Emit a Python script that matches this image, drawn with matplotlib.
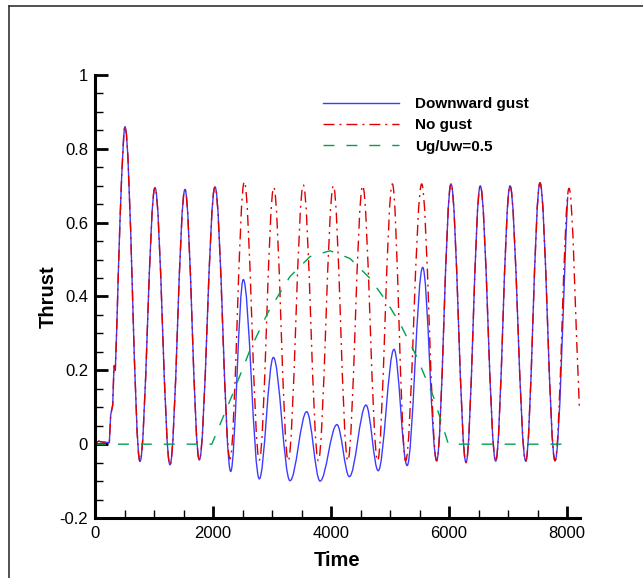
import matplotlib
matplotlib.use('Agg')
import matplotlib.pyplot as plt
from matplotlib.path import Path
from matplotlib.patches import PathPatch
from matplotlib.lines import Line2D
from matplotlib.ticker import MultipleLocator
import numpy as np

plt.rcParams['font.family'] = ['Liberation Sans', 'DejaVu Sans']

# start-up transient (same for both runs), drawn as straight pieces
start_t = [0, 60, 120, 243, 266, 300, 322, 344]
start_v = [0.003, 0.008, 0.006, 0.004, 0.079, 0.106, 0.212, 0.200]

# turning points, common part up to t~2030
common_t = [368, 424, 480, 508, 763, 1017, 1271, 1525, 1768, 2034]
common_v = [0.31, 0.607, 0.814, 0.86, -0.047, 0.695, -0.056, 0.69, -0.043, 0.697]

# downward gust
gust_t = [2300, 2514, 2785, 3023, 3305, 3588, 3814, 4100, 4311, 4593, 4800,
          5068, 5290, 5554, 5791, 6034, 6288, 6530, 6791, 7034, 7300, 7542,
          7797, 8011]
gust_v = [-0.074, 0.446, -0.094, 0.235, -0.099, 0.088, -0.100, 0.053, -0.088,
          0.106, -0.072, 0.257, -0.058, 0.479, -0.045, 0.705, -0.050, 0.700,
          -0.046, 0.700, -0.046, 0.708, -0.045, 0.670]

# no gust
nogust_t = [2288, 2531, 2785, 3030, 3275, 3531, 3785, 4040, 4285, 4537, 4790,
            5040, 5265, 5537, 5791, 6034, 6288, 6530, 6791, 7034, 7300, 7542,
            7797, 8034, 8209]
nogust_v = [-0.040, 0.711, -0.043, 0.696, -0.045, 0.702, -0.045, 0.700,
            -0.045, 0.700, -0.045, 0.705, -0.045, 0.705, -0.045, 0.705,
            -0.050, 0.700, -0.046, 0.700, -0.046, 0.708, -0.045, 0.693, 0.102]

# gust velocity ratio profile
ug_t = [0, 1980, 2316, 2627, 2938, 3305, 3644, 3983, 4322, 4661, 4943, 5169,
        5452, 5734, 5990, 7930]
ug_v = [0, 0, 0.129, 0.255, 0.359, 0.454, 0.508, 0.524, 0.503, 0.449, 0.386,
        0.327, 0.237, 0.129, 0.0, 0.0]

x_ticks = [0, 2000, 4000, 6000, 8000]
x_labels = ['0', '2000', '4000', '6000', '8000']
y_ticks = [-0.2, 0, 0.2, 0.4, 0.6, 0.8, 1.0]
y_labels = ['-0.2', '0', '0.2', '0.4', '0.6', '0.8', '1']


def curve_path(lt, lv, t, v):
    # straight pieces for the start, then smooth cubic pieces through the
    # turning points (flat tangent at each max/min)
    t = np.asarray(t, float)
    v = np.asarray(v, float)
    n = len(t)
    m = np.zeros(n)
    for i in range(n):
        lo, hi = max(i - 1, 0), min(i + 1, n - 1)
        if 0 < i < n - 1 and (v[i] - v[i - 1]) * (v[i + 1] - v[i]) <= 0:
            m[i] = 0.0
        else:
            m[i] = (v[hi] - v[lo]) / (t[hi] - t[lo])
    verts = [(lt[0], lv[0])]
    codes = [Path.MOVETO]
    for a, b in zip(lt[1:], lv[1:]):
        verts.append((a, b))
        codes.append(Path.LINETO)
    verts.append((t[0], v[0]))
    codes.append(Path.LINETO)
    for i in range(n - 1):
        d = 0.36 * (t[i + 1] - t[i])
        verts += [(t[i] + d, v[i] + m[i] * d),
                  (t[i + 1] - d, v[i + 1] - m[i + 1] * d),
                  (t[i + 1], v[i + 1])]
        codes += [Path.CURVE4] * 3
    return Path(verts, codes)


blue = '#3c3cff'
red = '#e00000'
green = '#00a050'
dashdot = (0, (7.9, 3.6, 1.4, 3.6))
dashed = (0, (7.9, 8.6))

fig = plt.figure(figsize=(6.43, 5.78), dpi=100)
ax = fig.add_axes([95 / 643, 60 / 578, 485 / 643, 443 / 578])

p1 = curve_path(start_t, start_v, common_t + gust_t, common_v + gust_v)
p2 = curve_path(start_t, start_v, common_t + nogust_t, common_v + nogust_v)
ax.add_patch(PathPatch(p1, fill=False, edgecolor=blue, lw=1.0,
                       joinstyle='round'))
ax.add_patch(PathPatch(p2, fill=False, edgecolor=red, lw=1.0,
                       linestyle=dashdot, joinstyle='round'))
ax.plot(ug_t, ug_v, color=green, lw=1.0, linestyle=dashed)

ax.set_xlim(0, 8220)
ax.set_ylim(-0.2, 1.0)

ax.set_xticks(x_ticks, x_labels)
ax.set_yticks(y_ticks, y_labels)
ax.xaxis.set_minor_locator(MultipleLocator(500))
ax.yaxis.set_minor_locator(MultipleLocator(0.05))
ax.tick_params(which='major', direction='in', length=9, width=2,
               labelsize=12)
ax.tick_params(which='minor', direction='in', length=6, width=1)
ax.tick_params(axis='y', pad=5)
ax.tick_params(axis='x', pad=6)
ax.xaxis.set_ticks_position('bottom')
ax.yaxis.set_ticks_position('left')

for s in ['top', 'right']:
    ax.spines[s].set_visible(False)
for s in ['left', 'bottom']:
    ax.spines[s].set_linewidth(2.2)

ax.set_xlabel('Time', fontsize=14.5, fontweight='bold', labelpad=7)
ax.set_ylabel('Thrust', fontsize=14.5, fontweight='bold', labelpad=1)

handles = [Line2D([], [], color=blue, lw=1.0),
           Line2D([], [], color=red, lw=1.0, linestyle=dashdot),
           Line2D([], [], color=green, lw=1.0, linestyle=dashed)]
ax.legend(handles, ['Downward gust', 'No gust', 'Ug/Uw=0.5'],
          loc='upper left', bbox_to_anchor=(323 / 643, 1 - 97 / 578),
          bbox_transform=fig.transFigure, frameon=False, borderpad=0,
          borderaxespad=0, handlelength=5.0, handletextpad=1.0,
          labelspacing=0.48, prop={'size': 11, 'weight': 'bold'})

# outer frame (only its left and top edges fall inside the picture)
fig.add_artist(Line2D([8.5 / 643, 8.5 / 643], [0, 1 - 5.5 / 578],
                      color='#333333', lw=1.2))
fig.add_artist(Line2D([8.5 / 643, 1], [1 - 5.5 / 578, 1 - 5.5 / 578],
                      color='#333333', lw=1.2))

fig.savefig('out.png', dpi=100)
